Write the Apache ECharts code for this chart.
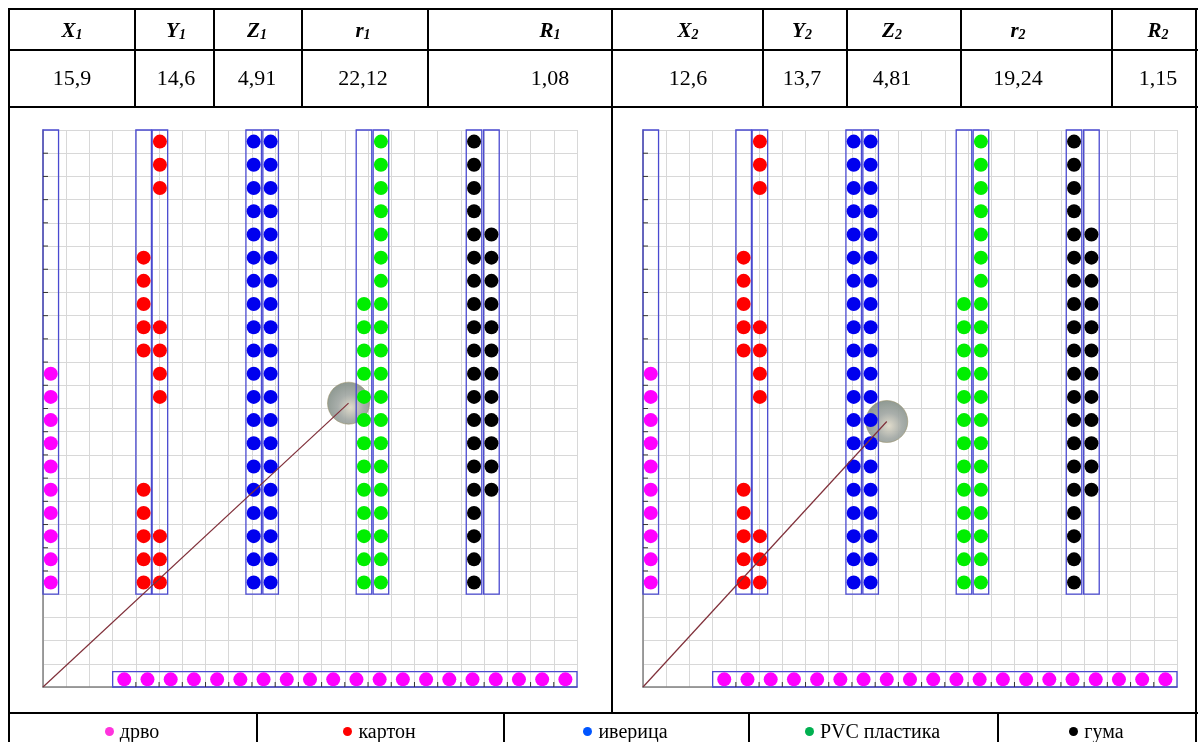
<!DOCTYPE html>
<html>
<head>
<meta charset="utf-8">
<script src="https://cdn.jsdelivr.net/npm/echarts@6/dist/echarts.min.js"></script>
<style>
  html, body { margin: 0; padding: 0; background: #fff; }
  #page { position: relative; width: 1204px; height: 742px; overflow: hidden;
          font-family: "Liberation Serif", "Times New Roman", serif; color: #000; }
  #chart { position: absolute; left: 0; top: 0; width: 1204px; height: 742px; }
  .ln { position: absolute; background: #000; }
  .txt { position: absolute; text-align: center; white-space: nowrap; }
  .head { font-size: 21px; font-weight: bold; font-style: italic; }
  .head sub { font-size: 14px; vertical-align: baseline; position: relative; top: 2px; }
  .val { font-size: 22px; }
  .leg { font-size: 20px; }
  .dot { display: inline-block; width: 9px; height: 9px; border-radius: 50%;
         margin-right: 6px; position: relative; top: -2px; }
</style>
</head>
<body>
<div id="page">
  <div id="chart"></div>
</div>
<script>
// ---- table values ----
const headNames = ['X', 'Y', 'Z', 'r', 'R'];
const values1 = ['15,9', '14,6', '4,91', '22,12', '1,08'];
const values2 = ['12,6', '13,7', '4,81', '19,24', '1,15'];
const legendNames = ['дрво', 'картон', 'иверица', 'PVC пластика', 'гума'];
const legendColors = ['#ff33dd', '#ff0000', '#0055ff', '#00b050', '#000000'];

// ---- chart data (grid units) ----
// column boxes: left edge on the x axis, material of the column
const colLeft = [0, 4, 4.7, 8.74, 9.47, 13.49, 14.22, 18.23, 18.98];
const colMaterial = [0, 1, 1, 2, 2, 3, 3, 4, 4];
// row levels of the columns, top to bottom
const rowLevels = [23.5, 22.5, 21.5, 20.5, 19.5, 18.5, 17.5, 16.5, 15.5, 14.5,
                   13.5, 12.5, 11.5, 10.5, 9.5, 8.5, 7.5, 6.5, 5.5, 4.5];
// occupancy of every column (1 = dot), same order as rowLevels
const colFill = [
  [0,0,0,0,0,0,0,0,0,0,1,1,1,1,1,1,1,1,1,1],
  [0,0,0,0,0,1,1,1,1,1,0,0,0,0,0,1,1,1,1,1],
  [1,1,1,0,0,0,0,0,1,1,1,1,0,0,0,0,0,1,1,1],
  [1,1,1,1,1,1,1,1,1,1,1,1,1,1,1,1,1,1,1,1],
  [1,1,1,1,1,1,1,1,1,1,1,1,1,1,1,1,1,1,1,1],
  [0,0,0,0,0,0,0,1,1,1,1,1,1,1,1,1,1,1,1,1],
  [1,1,1,1,1,1,1,1,1,1,1,1,1,1,1,1,1,1,1,1],
  [1,1,1,1,1,1,1,1,1,1,1,1,1,1,1,1,1,1,1,1],
  [0,0,0,0,1,1,1,1,1,1,1,1,1,1,1,1,0,0,0,0]
];
// bottom row of wood pieces
const rowLevelsX = [3.5, 4.5, 5.5, 6.5, 7.5, 8.5, 9.5, 10.5, 11.5, 12.5,
                    13.5, 14.5, 15.5, 16.5, 17.5, 18.5, 19.5, 20.5, 21.5, 22.5];
const rowFill = [1,1,1,1,1,1,1,1,1,1,1,1,1,1,1,1,1,1,1,1];
// centre of mass shown as sphere (projected), panel 1 and panel 2
const center1 = [13.16, 12.23];
const center2 = [10.5, 11.44];

const colWidth = 0.67;
const dotColors = ['#ff00ff', '#ff0000', '#0000ee', '#00ee00', '#000000'];

// ---- table drawing (html) ----
const page = document.getElementById('page');
function line(x, y, w, h) {
  const d = document.createElement('div');
  d.className = 'ln';
  d.style.cssText = `left:${x}px;top:${y}px;width:${w}px;height:${h}px`;
  page.appendChild(d);
}
function text(cls, html, cx, cy, h) {
  const d = document.createElement('div');
  d.className = 'txt ' + cls;
  d.innerHTML = html;
  d.style.cssText = `left:${cx - 80}px;width:160px;top:${cy - h / 2}px;height:${h}px;line-height:${h}px`;
  page.appendChild(d);
}
const colEdges = [8, 134, 213, 301, 427, 611, 762, 846, 960, 1111, 1196];
const textCenters = [72, 176, 257, 363, 550, 688, 802, 892, 1018, 1158];
const legEdges = [8, 256, 503, 748, 997, 1196];
[8, 49, 106, 712].forEach(y => line(8, y, 1190, 2));
line(8, 8, 2, 740); line(1195, 8, 2, 740);
colEdges.slice(1, -1).forEach(x => line(x, 8, 2, x === 611 ? 705 : 99));
legEdges.slice(1, -1).forEach(x => line(x, 712, 2, 40));
for (let i = 0; i < 10; i++) {
  const idx = i < 5 ? '1' : '2';
  const vals = i < 5 ? values1 : values2;
  text('head', headNames[i % 5] + '<sub>' + idx + '</sub>', textCenters[i], 30, 40);
  text('val', vals[i % 5], textCenters[i], 78, 40);
}
legendNames.forEach((n, i) => {
  text('leg', `<span class="dot" style="background:${legendColors[i]}"></span>${n}`,
       (legEdges[i] + legEdges[i + 1]) / 2, 731, 30);
});

// ---- charts ----
const chart = echarts.init(document.getElementById('chart'));

// box: [x0, x1, y0, y1, tick side] (tick side 0 none, 1 left edge, 2 bottom edge)
function boxData() {
  const boxes = colLeft.map((x, c) => [x, x + colWidth, 4, 24, colMaterial[c] === 0 ? 1 : 0]);
  boxes.push([3, 23, 0, 0.66, 2]);
  return boxes;
}
function dotData(material) {
  const pts = [];
  colLeft.forEach((x, c) => {
    if (colMaterial[c] !== material) return;
    colFill[c].forEach((f, r) => { if (f) pts.push([x + colWidth / 2, rowLevels[r]]); });
  });
  if (material === 0) {
    rowFill.forEach((f, i) => { if (f) pts.push([rowLevelsX[i], 0.33]); });
  }
  return pts;
}

const grids = [
  { left: 43, top: 130, width: 534, height: 557 },
  { left: 643, top: 130, width: 534, height: 557 }
];
const axisCommon = {
  type: 'value',
  interval: 1,
  axisLabel: { show: false },
  axisLine: { show: true, onZero: false, lineStyle: { color: '#808080', width: 1.5 } },
  axisTick: { show: false },
  splitLine: { show: true, lineStyle: { color: '#d8d8d8', width: 1 } }
};

function renderBox(params, api) {
  const x0 = api.value(0), x1 = api.value(1), y0 = api.value(2), y1 = api.value(3);
  const side = api.value(4);
  const p0 = api.coord([x0, y1]);
  const p1 = api.coord([x1, y0]);
  const children = [{
    type: 'rect',
    shape: { x: p0[0], y: p0[1], width: p1[0] - p0[0], height: p1[1] - p0[1] },
    style: { fill: 'none', stroke: '#4a4ad0', lineWidth: 1.3 }
  }];
  if (side === 1) {
    for (let v = y0 + 1; v < y1; v++) {
      const p = api.coord([x0, v]);
      children.push({ type: 'line', shape: { x1: p[0], y1: p[1], x2: p[0] + 5, y2: p[1] },
                      style: { stroke: '#333', lineWidth: 1 } });
    }
  } else if (side === 2) {
    for (let v = x0 + 1; v < x1; v++) {
      const p = api.coord([v, y0]);
      children.push({ type: 'line', shape: { x1: p[0], y1: p[1], x2: p[0], y2: p[1] - 5 },
                      style: { stroke: '#333', lineWidth: 1 } });
    }
  }
  return { type: 'group', children: children };
}

const series = [];
[center1, center2].forEach((center, g) => {
  series.push({
    type: 'custom',
    xAxisIndex: g, yAxisIndex: g,
    data: boxData(),
    encode: { x: [0, 1], y: [2, 3] },
    renderItem: renderBox,
    z: 3,
    silent: true
  });
  series.push({
    type: 'scatter',
    xAxisIndex: g, yAxisIndex: g,
    data: [center],
    symbolSize: 42,
    itemStyle: {
      opacity: 0.9,
      color: {
        type: 'radial', x: 0.55, y: 0.6, r: 0.6,
        colorStops: [
          { offset: 0, color: '#ddd8c6' },
          { offset: 0.5, color: '#a0a6a2' },
          { offset: 1, color: '#828e86' }
        ]
      },
      borderColor: 'rgba(150,140,100,0.6)',
      borderWidth: 1
    },
    z: 2,
    silent: true
  });
  dotColors.forEach((color, m) => {
    series.push({
      type: 'scatter',
      xAxisIndex: g, yAxisIndex: g,
      data: dotData(m),
      symbolSize: 14,
      itemStyle: { color: color, opacity: 1 },
      z: 4,
      silent: true
    });
  });
  series.push({
    type: 'line',
    xAxisIndex: g, yAxisIndex: g,
    data: [[0, 0], center],
    symbol: 'none',
    lineStyle: { color: '#80303a', width: 1.2 },
    z: 5,
    silent: true
  });
});

chart.setOption({
  animation: false,
  grid: grids,
  xAxis: grids.map((_, i) => Object.assign({}, axisCommon, { gridIndex: i, min: 0, max: 23 })),
  yAxis: grids.map((_, i) => Object.assign({}, axisCommon, { gridIndex: i, min: 0, max: 24 })),
  series: series
});
</script>
</body>
</html>
